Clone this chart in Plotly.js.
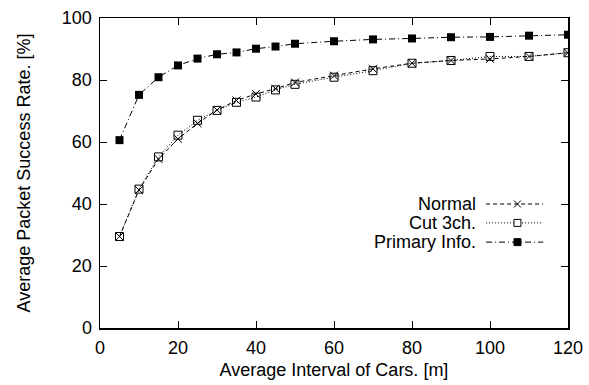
<!DOCTYPE html>
<html>
<head>
<meta charset="utf-8">
<script src="https://cdn.plot.ly/plotly-3.0.1.min.js"></script>
<style>html,body{margin:0;padding:0;background:#fff;}#chart{width:589px;height:385px;}</style>
</head>
<body>
<div id="chart"></div>
<script>
const intervals = [5, 10, 15, 20, 25, 30, 35, 40, 45, 50, 60, 70, 80, 90, 100, 110, 120];
const normal = [29.5, 44.5, 54.5, 61.0, 66.0, 70.3, 73.4, 75.5, 77.2, 79.2, 81.4, 83.6, 85.4, 86.3, 86.8, 87.6, 88.8];
const cut3ch = [29.5, 44.8, 55.2, 62.2, 67.0, 70.2, 72.8, 74.5, 76.8, 78.6, 80.9, 83.0, 85.4, 86.3, 87.6, 87.6, 88.8];
const primary = [60.6, 75.2, 80.9, 84.7, 86.9, 88.3, 88.9, 90.1, 90.8, 91.7, 92.5, 93.1, 93.4, 93.8, 93.9, 94.3, 94.6];
const seriesNames = ["Normal", "Cut 3ch.", "Primary Info."];
const xTicks = [0, 20, 40, 60, 80, 100, 120];
const yTicks = [0, 20, 40, 60, 80, 100];

const font = {family: "Liberation Sans, Arial, sans-serif", size: 18, color: "#000"};

const traces = [
  {x: intervals, y: normal, name: seriesNames[0], mode: "lines+markers",
   line: {color: "#000", width: 1, dash: "4px,3px"},
   marker: {symbol: "x-thin-open", size: 8, color: "#000", line: {color: "#000", width: 1}}},
  {x: intervals, y: cut3ch, name: seriesNames[1], mode: "lines+markers",
   line: {color: "#000", width: 1, dash: "1px,2px"},
   marker: {symbol: "square-open", size: 8, color: "#000", line: {color: "#000", width: 1}}},
  {x: intervals, y: primary, name: seriesNames[2], mode: "lines+markers",
   line: {color: "#000", width: 1, dash: "6px,3px,1px,3px"},
   marker: {symbol: "square", size: 8, color: "#000", line: {width: 0}}}
];

// manual gnuplot-style legend (text right, sample left)
const W = 468, H = 310;
const rowsY = [0.40, 0.339, 0.277];
const textX = 0.808, lx0 = 0.825, lx1 = 0.947, mx = 0.892;
const annotations = [], shapes = [];
seriesNames.forEach((n, i) => {
  annotations.push({xref: "paper", yref: "paper", x: textX, y: rowsY[i], text: n,
    showarrow: false, xanchor: "right", yanchor: "middle", font: font});
  shapes.push({type: "line", xref: "paper", yref: "paper", x0: lx0, x1: lx1, y0: rowsY[i], y1: rowsY[i],
    line: {color: "#000", width: 1, dash: traces[i].line.dash}});
});
const hw = 3.5 / W, hh = 3.5 / H;
shapes.push({type: "line", xref: "paper", yref: "paper", x0: mx - hw, x1: mx + hw, y0: rowsY[0] - hh, y1: rowsY[0] + hh, line: {color: "#000", width: 1}});
shapes.push({type: "line", xref: "paper", yref: "paper", x0: mx - hw, x1: mx + hw, y0: rowsY[0] + hh, y1: rowsY[0] - hh, line: {color: "#000", width: 1}});
shapes.push({type: "rect", xref: "paper", yref: "paper", x0: mx - hw, x1: mx + hw, y0: rowsY[1] - hh, y1: rowsY[1] + hh, line: {color: "#000", width: 1}, fillcolor: "#fff"});
shapes.push({type: "rect", xref: "paper", yref: "paper", x0: mx - hw, x1: mx + hw, y0: rowsY[2] - hh, y1: rowsY[2] + hh, line: {color: "#000", width: 1}, fillcolor: "#000"});

const layout = {
  width: 589, height: 385,
  margin: {l: 100, r: 21, t: 18, b: 57},
  paper_bgcolor: "#fff", plot_bgcolor: "#fff",
  font: font,
  showlegend: false,
  xaxis: {range: [0, 120], tickvals: xTicks, ticktext: xTicks.map(String),
    ticks: "inside", ticklen: 7, tickwidth: 1, tickcolor: "#000",
    showline: true, linecolor: "#000", linewidth: 1.5, mirror: "ticks",
    showgrid: false, zeroline: false, tickfont: font, ticklabelstandoff: 3,
    title: {text: "Average Interval of Cars. [m]", font: font, standoff: 6}},
  yaxis: {range: [0, 100], tickvals: yTicks, ticktext: yTicks.map(String),
    ticks: "inside", ticklen: 7, tickwidth: 1, tickcolor: "#000",
    showline: true, linecolor: "#000", linewidth: 1.5, mirror: "ticks",
    showgrid: false, zeroline: false, tickfont: font, ticklabelstandoff: 3,
    title: {text: "Average Packet Success Rate. [%]", font: font, standoff: 26}},
  annotations: annotations,
  shapes: shapes
};

Plotly.newPlot("chart", traces, layout, {displayModeBar: false, staticPlot: true});
</script>
</body>
</html>
